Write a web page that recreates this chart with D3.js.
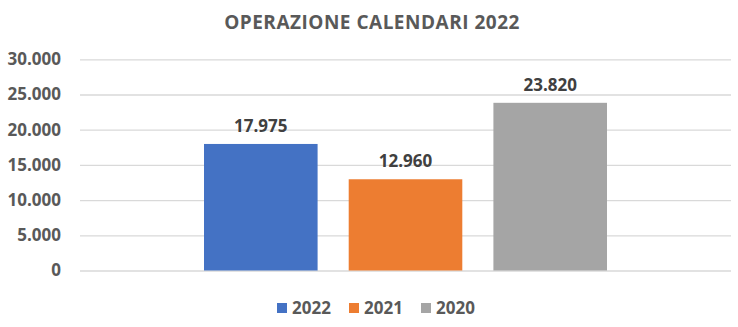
<!DOCTYPE html>
<html>
<head>
<meta charset="utf-8">
<script src="https://cdn.jsdelivr.net/npm/d3@7"></script>
<style>
  html, body { margin: 0; padding: 0; background: #fff; }
  svg { display: block; font-family: "Open Sans", sans-serif; }
</style>
</head>
<body>
<svg id="chart" width="738" height="327"></svg>
<script>
// Series (one category, three years)
const series = ["2022", "2021", "2020"];
const values = [17975, 12960, 23820];
const colors = ["#4472C4", "#ED7D31", "#A5A5A5"];
const yTicks = [0, 5000, 10000, 15000, 20000, 25000, 30000];
const title = "OPERAZIONE CALENDARI 2022";

const svg = d3.select("#chart");
const plot = { left: 80, right: 731, top: 59.3, bottom: 270.5 };

const itFormat = d3.formatLocale({ decimal: ",", thousands: ".", grouping: [3], currency: ["€", ""] }).format(",d");

const y = d3.scaleLinear().domain([0, 30000]).range([plot.bottom, plot.top]);
const x = d3.scaleBand().domain(series).range([204, 607]).paddingInner(0.215).paddingOuter(0);

// Title
svg.append("text")
  .attr("x", 372).attr("y", 28.5)
  .attr("text-anchor", "middle")
  .attr("font-size", 19).attr("font-weight", 700)
  .attr("letter-spacing", 0.5)
  .attr("fill", "#595959")
  .text(title);

// Gridlines and y axis labels
const yAxis = d3.axisLeft(y).tickValues(yTicks).tickFormat(itFormat)
  .tickSize(-(plot.right - plot.left)).tickPadding(19);
const ga = svg.append("g").attr("transform", `translate(${plot.left},0)`).call(yAxis);
ga.select(".domain").remove();
ga.selectAll(".tick line").attr("stroke", "#D9D9D9").attr("stroke-width", 1.3);
ga.selectAll(".tick text")
  .attr("font-size", 17).attr("font-weight", 700)
  .attr("fill", "#595959").attr("font-family", "'Open Sans', sans-serif");

// Bars
svg.append("g").selectAll("rect").data(series).join("rect")
  .attr("x", d => x(d))
  .attr("width", x.bandwidth())
  .attr("y", (d, i) => y(values[i]))
  .attr("height", (d, i) => y(0) - y(values[i]))
  .attr("fill", (d, i) => colors[i]);

// Value labels
svg.append("g").selectAll("text").data(series).join("text")
  .attr("x", d => x(d) + x.bandwidth() / 2)
  .attr("y", (d, i) => y(values[i]) - 12)
  .attr("text-anchor", "middle")
  .attr("font-size", 17).attr("font-weight", 700)
  .attr("fill", "#404040")
  .text((d, i) => itFormat(values[i]));

// Legend
const legendX = [277, 349, 421];
const lg = svg.append("g").selectAll("g").data(series).join("g")
  .attr("transform", (d, i) => `translate(${legendX[i]},303)`);
lg.append("rect").attr("width", 10).attr("height", 10).attr("fill", (d, i) => colors[i]);
lg.append("text").attr("x", 15).attr("y", 11)
  .attr("font-size", 17).attr("font-weight", 700)
  .attr("fill", "#595959").text(d => d);
</script>
</body>
</html>
